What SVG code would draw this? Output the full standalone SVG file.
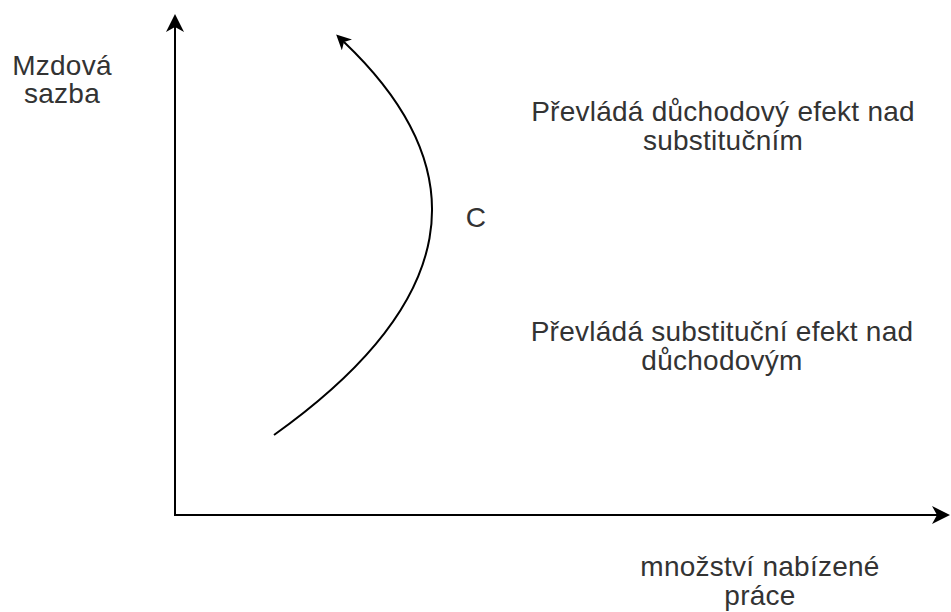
<svg xmlns="http://www.w3.org/2000/svg" width="951" height="612" viewBox="0 0 951 612">
<style>
.t{font-family:"Liberation Sans",Arial,sans-serif;font-size:28px;letter-spacing:0.25px;fill:#333;text-anchor:middle}
.ln{fill:none;stroke:#000;stroke-width:2}
</style>
<defs>
<marker id="ah" markerUnits="userSpaceOnUse" viewBox="0 0 18 18" markerWidth="18" markerHeight="18" refX="5" refY="9" orient="auto">
<path d="M0,0 L18,9 L0,18 L5,9 z" fill="#000"/>
</marker>
<marker id="ahs" markerUnits="userSpaceOnUse" viewBox="0 0 18 18" markerWidth="15" markerHeight="15" refX="5" refY="9" orient="auto">
<path d="M0,0 L18,9 L0,18 L5,9 z" fill="#000"/>
</marker>
</defs>
<g id="connectors">
<path class="ln" d="M175,516 L175,27" marker-end="url(#ah)"/>
<path class="ln" d="M174,515 L937,515" marker-end="url(#ah)"/>
<path class="ln" d="M274,435 Q550,238 344,42" marker-end="url(#ahs)"/>
</g>
<g id="ylabel"><text class="t" x="62" y="75">Mzdová</text><text class="t" x="62" y="103">sazba</text></g>
<g id="xlabel"><text class="t" x="760" y="576">množství nabízené</text><text class="t" x="760" y="605">práce</text></g>
<g id="top"><text class="t" x="723" y="121">Převládá důchodový efekt nad</text><text class="t" x="723" y="150">substitučním</text></g>
<g id="bottom"><text class="t" x="722" y="341">Převládá substituční efekt nad</text><text class="t" x="722" y="370">důchodovým</text></g>
<g id="c"><text class="t" x="476" y="227">C</text></g>
</svg>
